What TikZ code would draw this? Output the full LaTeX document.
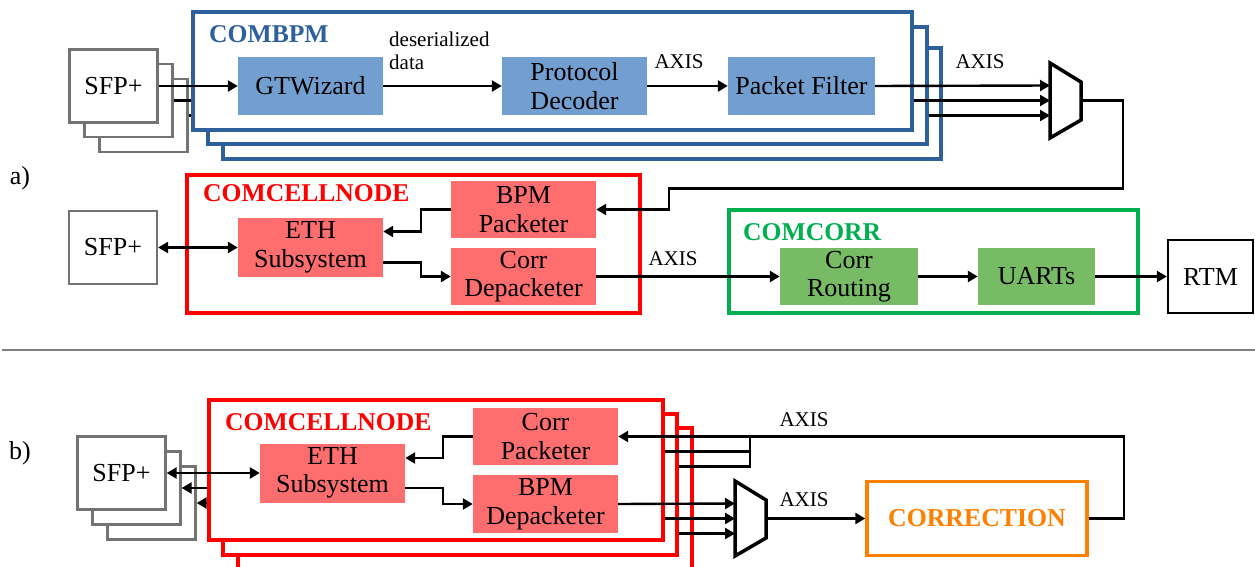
\documentclass[tikz,border=0pt]{standalone}
\usepackage{fontspec}
\setmainfont{Liberation Serif}
\usetikzlibrary{arrows.meta,calc}
\definecolor{bpmblue}{RGB}{46,96,156}
\definecolor{bpmfill}{RGB}{114,159,207}
\definecolor{cellred}{RGB}{255,0,0}
\definecolor{cellfill}{RGB}{255,110,110}
\definecolor{corrgreen}{RGB}{0,176,80}
\definecolor{corrfill}{RGB}{119,187,101}
\definecolor{corrorange}{RGB}{255,128,0}
\definecolor{sfpgray}{RGB}{115,115,115}

\begin{document}
\begin{tikzpicture}[x=1pt,y=-1pt,
    font=\fontsize{26}{28.5}\selectfont,
    wire/.style={line width=2.4pt},
    arr/.style={wire,-{Triangle[length=10pt,width=11pt]}},
    darr/.style={wire,{Triangle[length=10pt,width=11pt]}-{Triangle[length=10pt,width=11pt]}},
    blk/.style={fill=#1, inner sep=0pt, align=center,
        minimum width=145pt, minimum height=58pt},
    sfpbox/.style={draw=sfpgray, line width=2.3pt, fill=white,
        minimum width=88pt, minimum height=73pt, inner sep=0pt},
    cont/.style={draw=#1, line width=3.4pt, fill=white, inner sep=0pt},
    ttl/.style={text=#1, font=\fontsize{25.6}{28}\selectfont\bfseries,
        inner sep=0pt, anchor=west},
    lbl/.style={font=\fontsize{21}{22.5}\selectfont, inner sep=0pt},
    mux/.pic={
        \draw[line width=3.5pt, fill=white] (0,-37.5) -- (31,-18.5)
            -- (31,19.5) -- (0,37.5) -- cycle;
        \coordinate (-i1) at (0,-15);
        \coordinate (-i2) at (0,0);
        \coordinate (-i3) at (0,15);
        \coordinate (-o) at (31,0);
    },
]
\useasboundingbox (0,0) rectangle (1255,567);
\clip (0,0) rectangle (1255,567);

% ---- a) ----
\node (lblA) at (20,178) {a)};

% SFP stack
\node[sfpbox] (sfpA3) at (143.5,115.5) {};
\node[sfpbox] (sfpA2) at (128.5,100.5) {};
\node[sfpbox] (sfpA1) at (113.5,86) {SFP+};

% COMBPM stack
\node[cont=bpmblue, minimum width=718pt, minimum height=111pt] (bpmA3) at (582,103.5) {};
\node[cont=bpmblue, minimum width=719pt, minimum height=117pt] (bpmA2) at (567.5,85.5) {};
\node[cont=bpmblue, minimum width=719pt, minimum height=118pt] (bpmA1) at (552.5,71) {};
\node[ttl=bpmblue] (tBpm) at (209,34) {COMBPM};

\node[blk=bpmfill] (gtw) at (310.5,86) {GTWizard};
\node[blk=bpmfill] (pd) at (574.5,86) {Protocol\\Decoder};
\node[blk=bpmfill, minimum width=147pt] (pf) at (801.5,86) {Packet Filter};

\pic (muxa) at (1050,100.5) {mux};

\node[lbl, anchor=west, align=left] (lblDes) at (389,51) {deserialized\\data};
\node[lbl] (lblAx1) at (679,62) {AXIS};
\node[lbl] (lblAx2) at (980,62) {AXIS};

\draw[arr] (sfpA1.east) -- (gtw.west);
\draw[wire] (sfpA2.east) -- (sfpA2.east -| bpmA1.west);
\draw[wire] (sfpA3.east) -- (sfpA3.east -| bpmA1.west);
\draw[arr] (gtw.east) -- (pd.west);
\draw[arr] (pd.east) -- (pf.west);
\draw[arr] (pf.east) -- (muxa-i1);
\draw[arr] (muxa-i2 -| bpmA1.east) -- (muxa-i2);
\draw[arr] (muxa-i3 -| bpmA2.east) -- (muxa-i3);

% COMCELLNODE
\node[sfpbox] (sfpB) at (113,247.5) {SFP+};
\node[cont=cellred, minimum width=453pt, minimum height=138pt] (cnA) at (413.5,244) {};
\node[ttl=cellred] (tCellA) at (203,193) {COMCELLNODE};
\node[blk=cellfill, minimum height=57pt] (bpmp) at (523.5,209.5) {BPM\\Packeter};
\node[blk=cellfill, minimum height=59pt] (ethA) at (310.5,247.5) {ETH\\Subsystem};
\node[blk=cellfill, minimum height=57pt] (cdp) at (523.5,276.5) {Corr\\Depacketer};

% COMCORR
\node[cont=corrgreen, minimum width=409pt, minimum height=103pt] (corrA) at (933.5,261.5) {};
\node[ttl=corrgreen] (tCorr) at (743,232) {COMCORR};
\node[blk=corrfill, minimum width=138pt, minimum height=57pt] (crt) at (849,276.5) {Corr\\Routing};
\node[blk=corrfill, minimum width=117pt, minimum height=57pt] (uart) at (1036.5,276.5) {UARTs};
\node[draw, line width=2.3pt, minimum width=85pt, minimum height=73pt, inner sep=0pt] (rtm) at (1210.5,276.5) {RTM};
\node[lbl] (lblAx3) at (673,259) {AXIS};

\draw[arr] (muxa-o) -- ++(42,0) |- ++(-454,88) |- (bpmp.east);
\draw[darr] (sfpB.east) -- (ethA.west);
\draw[arr] (bpmp.west) -- ++(-30,0) |- ([yshift=16pt]ethA.east);
\draw[arr] ([yshift=-15pt]ethA.east) -- ++(38,0) |- (cdp.west);
\draw[arr] (cdp.east) -- (crt.west);
\draw[arr] (crt.east) -- (uart.west);
\draw[arr] (uart.east) -- (rtm.west);

% separator
\draw[draw=gray, line width=2pt] (2,350) -- (1255,350);

% ---- b) ----
\node (lblB) at (20,453) {b)};

\node[sfpbox] (sfpC3) at (151.5,503) {};
\node[sfpbox] (sfpC2) at (136.5,488) {};
\node[sfpbox] (sfpC1) at (121.5,473) {SFP+};

\node[cont=cellred, minimum width=454pt, minimum height=142pt] (cnB3) at (465,499) {};
\node[cont=cellred, minimum width=454pt, minimum height=141pt] (cnB2) at (450,484.5) {};
\node[cont=cellred, minimum width=454pt, minimum height=140pt] (cnB1) at (436,470) {};
\node[ttl=cellred] (tCellB) at (225,422) {COMCELLNODE};

\node[blk=cellfill, minimum height=57pt] (cp) at (545.5,436.5) {Corr\\Packeter};
\node[blk=cellfill, minimum height=59pt] (ethB) at (332.5,473) {ETH\\Subsystem};
\node[blk=cellfill] (bd) at (545.5,504) {BPM\\Depacketer};

\pic (muxb) at (735,518.5) {mux};
\node[draw=corrorange, line width=3.4pt, minimum width=220pt, minimum height=74pt,
    text=corrorange, font=\fontsize{25.8}{28}\selectfont\bfseries] (corr) at (977,518.5) {CORRECTION};
\node[lbl] (lblAx4) at (804,420) {AXIS};
\node[lbl] (lblAx5) at (804,500) {AXIS};
\coordinate (tap) at (750,436.5);

\draw[darr] (sfpC1.east) -- (ethB.west);
\draw[arr] (sfpC2.east -| cnB1.west) -- (sfpC2.east);
\draw[arr] (sfpC3.east -| cnB1.west) -- (sfpC3.east);
\draw[arr] (cp.west) -- ++(-30,0) |- ([yshift=15pt]ethB.east);
\draw[arr] ([yshift=-15pt]ethB.east) -- ++(38,0) |- (bd.west);
\draw[arr] (bd.east) -- (muxb-i1);
\draw[arr] (muxb-i2 -| cnB1.east) -- (muxb-i2);
\draw[arr] (muxb-i3 -| cnB2.east) -- (muxb-i3);
\draw[arr] (muxb-o) -- (corr.west);
\draw[arr] (corr.east) -- ++(35,0) |- (cp.east);
\draw[wire] ($(cnB1.east |- tap)+(0,15)$) -| (tap);
\draw[wire] ($(cnB2.east |- tap)+(0,30)$) -| (tap);
\end{tikzpicture}
\end{document}
